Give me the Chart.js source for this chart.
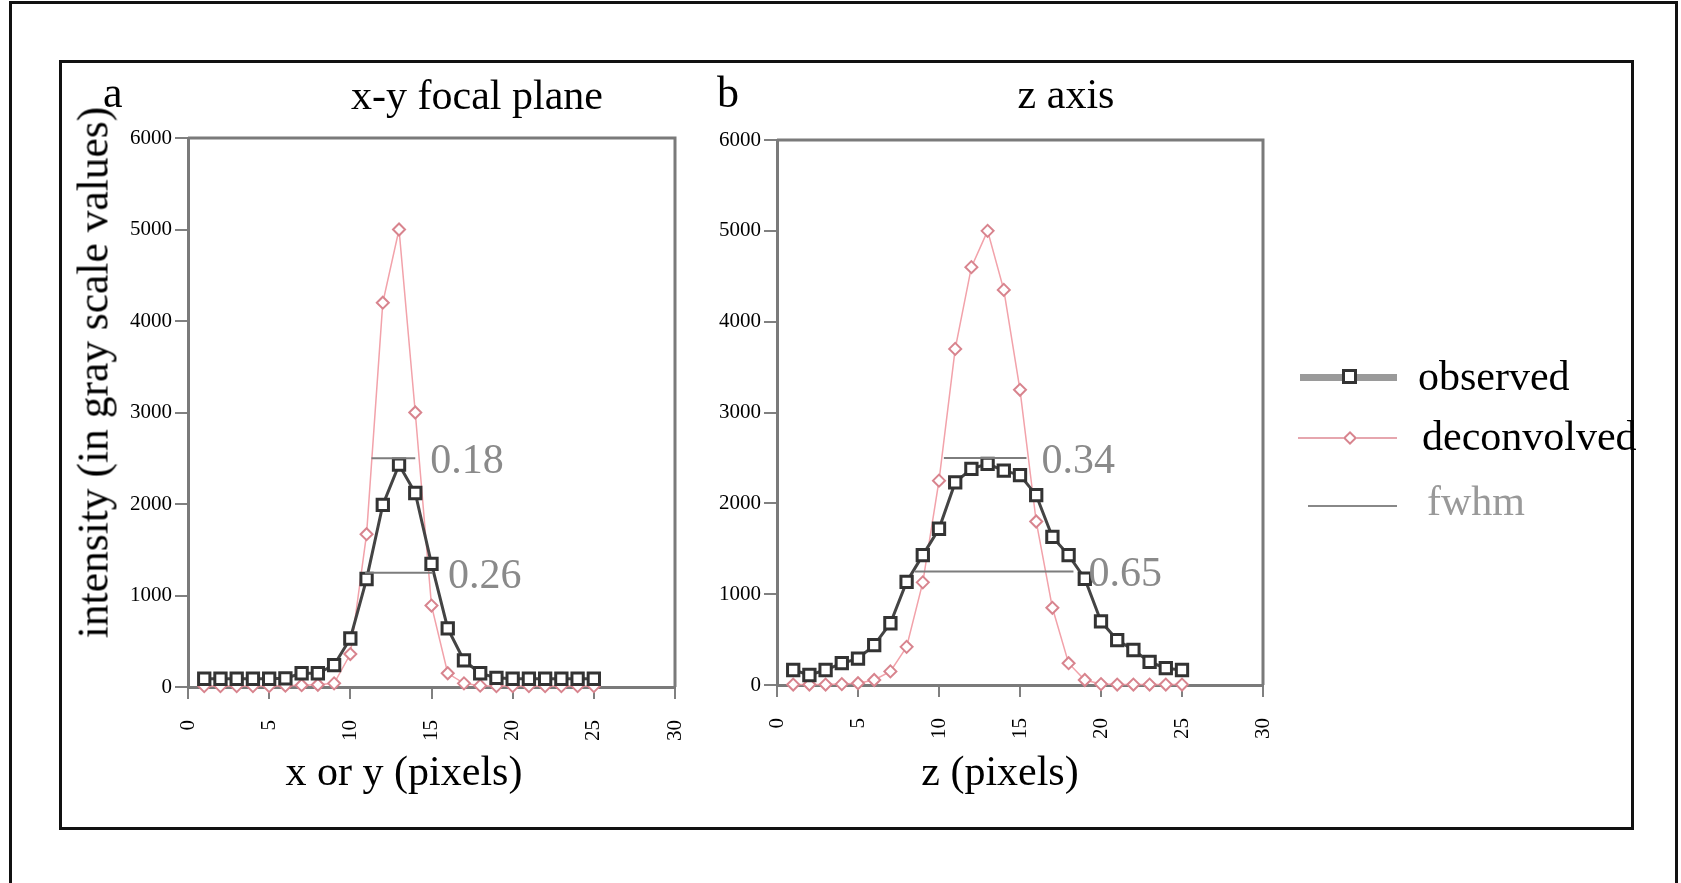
<!DOCTYPE html>
<html>
<head>
<meta charset="utf-8">
<script src="https://cdn.jsdelivr.net/npm/chart.js@4.4.1/dist/chart.umd.min.js"></script>
<style>
  body { margin: 0; background: #fff; }
  #page { position: relative; width: 1681px; height: 883px; overflow: hidden; background: #fff;
          font-family: "Liberation Serif", "Times New Roman", serif; color: #000; }
  .abs { position: absolute; white-space: nowrap; }
  .t42 { font-size: 42px; line-height: 42px; }
  canvas { position: absolute; }
</style>
</head>
<body>
<div id="page">
  <!-- frames -->
  <div class="abs" style="left:9px; top:1px; width:1663px; height:950px; border:3px solid #111;"></div>
  <div class="abs" style="left:59px; top:60px; width:1569px; height:764px; border:3px solid #111;"></div>

  <canvas id="panelA" width="620" height="690" style="left:110px; top:100px;"></canvas>
  <canvas id="panelB" width="620" height="690" style="left:700px; top:100px;"></canvas>

  <!-- panel headings -->
  <div class="abs" style="left:103px; top:71px; font-size:44px; line-height:44px;">a</div>
  <div class="abs t42" style="left:277px; top:74px; width:400px; text-align:center;">x-y focal plane</div>
  <div class="abs" style="left:717px; top:71px; font-size:44px; line-height:44px;">b</div>
  <div class="abs t42" style="left:866px; top:73px; width:400px; text-align:center;">z axis</div>

  <!-- axis titles -->
  <div class="abs" style="left:-207px; top:351px; width:600px; height:43px; font-size:43.5px; line-height:43px; text-align:center; transform:rotate(-90deg);">intensity (in gray scale values)</div>
  <div class="abs t42" style="left:204px; top:750px; width:400px; text-align:center;">x or y (pixels)</div>
  <div class="abs t42" style="left:800px; top:750px; width:400px; text-align:center;">z (pixels)</div>

  <!-- legend -->
  <div class="abs" style="left:1300px; top:374px; width:97px; height:7px; background:#9a9a9a;"></div>
  <div class="abs" style="left:1342px; top:369px; width:15px; height:15px; box-sizing:border-box; border:3px solid #333; background:#fff;"></div>
  <div class="abs t42" style="left:1418px; top:355px;">observed</div>

  <div class="abs" style="left:1298px; top:437px; width:99px; height:2px; background:#e6a6ae;"></div>
  <div class="abs" style="left:1345px; top:433px; width:10px; height:10px; box-sizing:border-box; border:2px solid #d8848e; background:#fff; transform:rotate(45deg);"></div>
  <div class="abs t42" style="left:1422px; top:415px;">deconvolved</div>

  <div class="abs" style="left:1308px; top:505px; width:89px; height:2px; background:#888;"></div>
  <div class="abs t42" style="left:1427px; top:480px; color:#999;">fwhm</div>
</div>

<script>
// ---- data ----
const xPixels = [1, 2, 3, 4, 5, 6, 7, 8, 9, 10, 11, 12, 13, 14, 15, 16, 17, 18, 19, 20, 21, 22, 23, 24, 25];

// panel a: x-y focal plane
const observedXY = [90, 90, 90, 90, 90, 95, 150, 150, 240, 530, 1180, 1990, 2430, 2120, 1345, 640, 290, 150, 100, 90, 90, 90, 90, 90, 90];
const deconvolvedXY = [10, 10, 10, 10, 10, 15, 20, 25, 40, 360, 1670, 4200, 5000, 3000, 890, 150, 40, 15, 10, 10, 10, 10, 10, 10, 10];

// panel b: z axis
const observedZ = [165, 110, 165, 240, 290, 440, 680, 1135, 1430, 1720, 2230, 2380, 2435, 2360, 2310, 2090, 1630, 1430, 1170, 700, 495, 385, 255, 185, 165];
const deconvolvedZ = [5, 5, 5, 10, 20, 55, 150, 420, 1130, 2250, 3700, 4600, 5000, 4350, 3250, 1800, 850, 240, 55, 10, 5, 5, 5, 5, 5];

// fwhm bars: level, start, end, label
const fwhmLevelXY = [2500, 1250];
const fwhmFromXY = [11.3, 10.9];
const fwhmToXY = [14.0, 15.1];
const fwhmTextXY = ["0.18", "0.26"];

const fwhmLevelZ = [2500, 1250];
const fwhmFromZ = [10.3, 8.5];
const fwhmToZ = [15.4, 18.3];
const fwhmTextZ = ["0.34", "0.65"];

// axis ticks
const xTicks = [0, 5, 10, 15, 20, 25, 30];
const yTicks = [0, 1000, 2000, 3000, 4000, 5000, 6000];

// ---- drawing ----
const frame = {
    id: "frame",
    beforeDatasetsDraw(chart) {
        const { ctx, chartArea: a } = chart;
        ctx.save();
        ctx.strokeStyle = "#7a7a7a";
        ctx.lineWidth = 3;
        ctx.beginPath();
        ctx.moveTo(a.left, a.top);
        ctx.lineTo(a.right, a.top);
        ctx.lineTo(a.right, a.bottom);
        ctx.stroke();
        ctx.restore();
    },
};

const fwhmLabels = {
    id: "fwhmLabels",
    afterDatasetsDraw(chart) {
        const ctx = chart.ctx;
        ctx.save();
        ctx.font = '42px "Liberation Serif"';
        ctx.fillStyle = "#8a8a8a";
        ctx.textBaseline = "middle";
        ctx.textAlign = "left";
        chart.data.datasets.forEach((ds, i) => {
            if (!ds.fwhmText) return;
            const pts = chart.getDatasetMeta(i).data;
            const end = pts[pts.length - 1];
            ctx.fillText(ds.fwhmText, end.x + 15, end.y + 4);
        });
        ctx.restore();
    },
};

function drawPanel(id, box, area, obs, dec, level, from, to, text) {
    const tickFont = { family: "Liberation Serif", size: 21 };
    const datasets = [];

    level.forEach((lv, i) => {
        datasets.push({
            label: "fwhm",
            data: [{ x: from[i], y: lv }, { x: to[i], y: lv }],
            borderColor: "#7d7d7d",
            borderWidth: 2,
            pointRadius: 0,
            fwhmText: text[i],
        });
    });

    datasets.push({
        label: "observed",
        data: xPixels.map((x, i) => ({ x, y: obs[i] })),
        borderColor: "#444",
        borderWidth: 3,
        pointStyle: "rect",
        pointRadius: 8,
        pointBorderWidth: 3,
        pointBorderColor: "#333",
        pointBackgroundColor: "#fff",
        clip: false,
    });

    datasets.push({
        label: "deconvolved",
        data: xPixels.map((x, i) => ({ x, y: dec[i] })),
        borderColor: "#f2a2aa",
        borderWidth: 1.5,
        pointStyle: "rectRot",
        pointRadius: 6,
        pointBorderWidth: 2,
        pointBorderColor: "#d8848e",
        pointBackgroundColor: "#fff",
        clip: false,
    });

    return new Chart(document.getElementById(id), {
        type: "line",
        data: { datasets },
        options: {
            responsive: false,
            animation: false,
            devicePixelRatio: 1,
            layout: {
                padding: {
                    top: area.top - box.top,
                    right: box.left + box.width - area.right,
                    bottom: 0,
                    left: 0,
                },
            },
            plugins: {
                legend: { display: false },
                tooltip: { enabled: false },
            },
            scales: {
                x: {
                    type: "linear",
                    min: 0,
                    max: 30,
                    afterBuildTicks: (s) => { s.ticks = xTicks.map((v) => ({ value: v })); },
                    afterFit: (s) => { s.height = box.top + box.height - area.bottom; },
                    grid: { drawOnChartArea: false, drawTicks: true, tickLength: 12, color: "#808080", lineWidth: 2 },
                    border: { display: true, color: "#7a7a7a", width: 3 },
                    ticks: { minRotation: 90, maxRotation: 90, autoSkip: false, padding: 21, color: "#000", font: tickFont,
                             callback: (v) => String(v) },
                },
                y: {
                    min: 0,
                    max: 6000,
                    afterBuildTicks: (s) => { s.ticks = yTicks.map((v) => ({ value: v })); },
                    afterFit: (s) => { s.width = area.left - box.left; },
                    grid: { drawOnChartArea: false, drawTicks: true, tickLength: 13, color: "#808080", lineWidth: 2 },
                    border: { display: true, color: "#7a7a7a", width: 3 },
                    ticks: { padding: 3, color: "#000", font: tickFont, callback: (v) => String(v) },
                },
            },
        },
        plugins: [frame, fwhmLabels],
    });
}

drawPanel("panelA",
    { left: 110, top: 100, width: 620, height: 690 },
    { left: 188, top: 138, right: 675, bottom: 687 },
    observedXY, deconvolvedXY, fwhmLevelXY, fwhmFromXY, fwhmToXY, fwhmTextXY);

drawPanel("panelB",
    { left: 700, top: 100, width: 620, height: 690 },
    { left: 777, top: 140, right: 1263, bottom: 685 },
    observedZ, deconvolvedZ, fwhmLevelZ, fwhmFromZ, fwhmToZ, fwhmTextZ);
</script>
</body>
</html>
